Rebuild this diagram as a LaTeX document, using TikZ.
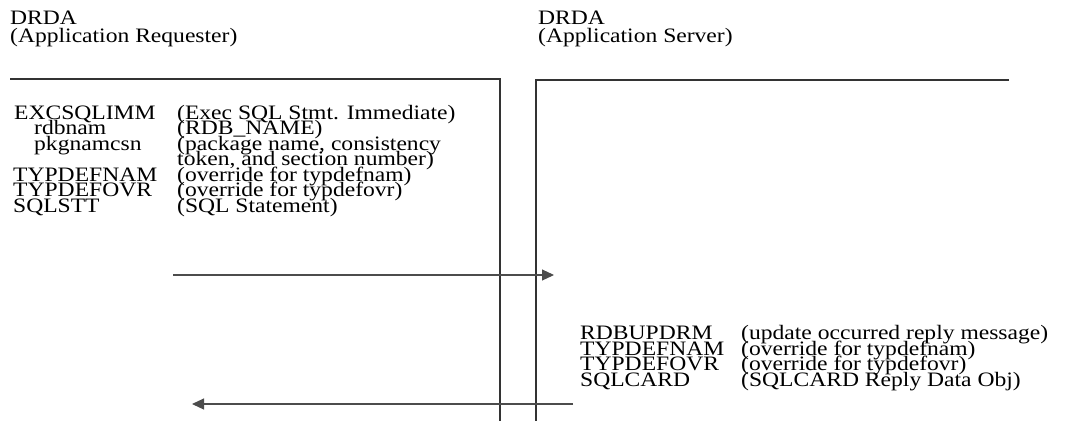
\documentclass[tikz,border=0pt]{standalone}
\usepackage{fontspec}
\setmainfont[FakeStretch=1.15]{Liberation Serif}
\usetikzlibrary{arrows.meta}
\tikzset{
  txt/.style={anchor=base west, inner sep=0pt, font=\fontsize{20.5}{15.5}\selectfont},
  head/.style={anchor=base west, inner sep=0pt, font=\fontsize{20.5}{17}\selectfont},
  rule/.style={line width=1.1pt, draw=black!80},
  msg/.style={line width=1.1pt, draw=black!70, -{Triangle[length=12pt,width=11pt]}},
}
\begin{document}
\begin{tikzpicture}[x=1pt,y=-1pt]
\useasboundingbox (0,0) rectangle (1068,421);
% headings
\node[head] (h1a) at (10,24) {DRDA};
\node[head] (h1b) at (10,42) {(Application Requester)};
\node[head] (h2a) at (538,24) {DRDA};
\node[head] (h2b) at (538,42) {(Application Server)};
% boxes
\draw[rule] (10,79) -- (500,79) -- (500,421);
\draw[rule] (1009,80) -- (536,80) -- (536,421);
% left block
\node[txt] (a1) at (14,119) {EXCSQLIMM};
\node[txt] (a2) at (34,134.5) {rdbnam};
\node[txt] (a3) at (34,150) {pkgnamcsn};
\node[txt] (a5) at (13,181) {TYPDEFNAM};
\node[txt] (a6) at (13,196.5) {TYPDEFOVR};
\node[txt] (a7) at (13,212) {SQLSTT};
\node[txt] (b1) at (177,119) {(Exec SQL Stmt. Immediate)};
\node[txt] (b2) at (177,134.5) {(RDB\_NAME)};
\node[txt] (b3) at (177,150) {(package name, consistency};
\node[txt] (b4) at (177,165.5) {token, and section number)};
\node[txt] (b5) at (177,181) {(override for typdefnam)};
\node[txt] (b6) at (177,196.5) {(override for typdefovr)};
\node[txt] (b7) at (177,212) {(SQL Statement)};
% right block
\node[txt] (c1) at (580,339.5) {RDBUPDRM};
\node[txt] (c2) at (580,355.2) {TYPDEFNAM};
\node[txt] (c3) at (580,370.9) {TYPDEFOVR};
\node[txt] (c4) at (580,386.6) {SQLCARD};
\node[txt] (d1) at (741,339.5) {(update occurred reply message)};
\node[txt] (d2) at (741,355.2) {(override for typdefnam)};
\node[txt] (d3) at (741,370.9) {(override for typdefovr)};
\node[txt] (d4) at (741,386.6) {(SQLCARD Reply Data Obj)};
% messages
\coordinate (s1) at (173,275);
\coordinate (e1) at (554,275);
\coordinate (s2) at (573,404);
\coordinate (e2) at (192,404);
\draw[msg] (s1) -- (e1);
\draw[msg] (s2) -- (e2);
\end{tikzpicture}
\end{document}
